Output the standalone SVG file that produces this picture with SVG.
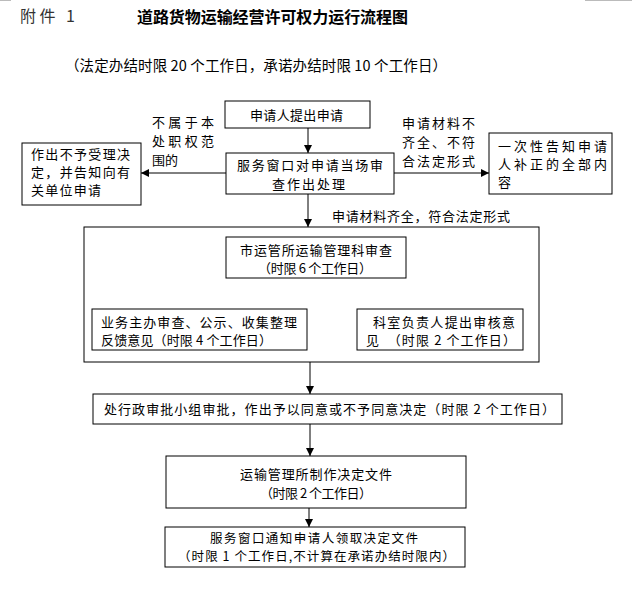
<svg xmlns="http://www.w3.org/2000/svg" width="632" height="601" viewBox="0 0 632 601">
<style>
text{font-family:"Noto Sans CJK SC","Noto Sans",sans-serif;font-size:13px;fill:#000}
.box{fill:#fff;stroke:#000;stroke-width:1}
.c{stroke:#000;stroke-width:1;fill:none;marker-end:url(#ah)}
.lbl{font-size:13px}
</style>
<defs>
<marker id="ah" markerUnits="userSpaceOnUse" markerWidth="8" markerHeight="8" refX="8" refY="4" orient="auto">
<path d="M0,0 L8,4 L0,8 z" fill="#000"/>
</marker>
</defs>
<rect width="632" height="601" fill="#fff"/>
<line x1="0" y1="0.5" x2="11" y2="0.5" stroke="#bbb"/>
<line x1="585" y1="0.5" x2="632" y2="0.5" stroke="#bbb"/>
<g id="title">
<text x="20" y="22" style="font-size:16px;fill:#333" textLength="55">附件 1</text>
<text x="137" y="23" style="font-size:16px;font-weight:bold" textLength="271">道路货物运输经营许可权力运行流程图</text>
<text x="65" y="71" style="font-size:14.5px" textLength="382">（法定办结时限 20 个工作日，承诺办结时限 10 个工作日）</text>
</g>
<g id="connectors">
<line class="c" x1="308" y1="128" x2="308" y2="153"/>
<line class="c" x1="226" y1="173" x2="141" y2="173"/>
<line class="c" x1="394" y1="173" x2="489" y2="173"/>
<line class="c" x1="308" y1="194" x2="308" y2="227"/>
<line class="c" x1="242" y1="278" x2="242" y2="309"/>
<line class="c" x1="399" y1="278" x2="399" y2="309"/>
<line class="c" x1="310" y1="362" x2="310" y2="394"/>
<line class="c" x1="310" y1="424" x2="310" y2="456"/>
<line class="c" x1="309" y1="508" x2="309" y2="527"/>
<text class="lbl" x="152" y="127" textLength="62">不属于本</text>
<text class="lbl" x="152" y="146" textLength="62">处职权范</text>
<text class="lbl" x="152" y="165">围的</text>
<text class="lbl" x="402" y="128" textLength="73">申请材料不</text>
<text class="lbl" x="402" y="147" textLength="73">齐全、不符</text>
<text class="lbl" x="402" y="166" textLength="73">合法定形式</text>
<text class="lbl" x="332" y="221" textLength="178">申请材料齐全，符合法定形式</text>
</g>
<g id="n1">
<rect class="box" x="225" y="101" width="145" height="27"/>
<text x="250" y="120" textLength="93">申请人提出申请</text>
</g>
<g id="n2">
<rect class="box" x="226" y="153" width="168" height="41"/>
<text x="237" y="170" textLength="146">服务窗口对申请当场审</text>
<text x="272" y="189" textLength="73">查作出处理</text>
</g>
<g id="n3">
<rect class="box" x="22" y="143" width="119" height="62"/>
<text x="31" y="159" textLength="99">作出不予受理决</text>
<text x="31" y="177" textLength="99">定，并告知向有</text>
<text x="31" y="195" textLength="70">关单位申请</text>
</g>
<g id="n4">
<rect class="box" x="489" y="133" width="123" height="61"/>
<text x="498" y="151" textLength="109">一次性告知申请</text>
<text x="498" y="169" textLength="109">人补正的全部内</text>
<text x="498" y="187">容</text>
</g>
<g id="n5">
<rect class="box" x="84" y="227" width="455" height="135"/>
</g>
<g id="n6">
<rect class="box" x="226" y="237" width="180" height="41"/>
<text x="240" y="255" textLength="152">市运管所运输管理科审查</text>
<text x="258" y="273" textLength="114">（时限 6 个工作日）</text>
</g>
<g id="n7">
<rect class="box" x="92" y="309" width="215" height="41"/>
<text x="101" y="327" textLength="196">业务主办审查、公示、收集整理</text>
<text x="101" y="345" textLength="171">反馈意见（时限 4 个工作日）</text>
</g>
<g id="n8">
<rect class="box" x="357" y="309" width="166" height="41"/>
<text x="373" y="327" textLength="142">科室负责人提出审核意</text>
<text x="366" y="345" textLength="150">见　（时限 2 个工作日）</text>
</g>
<g id="n9">
<rect class="box" x="93" y="394" width="469" height="30"/>
<text x="104" y="414" textLength="451">处行政审批小组审批，作出予以同意或不予同意决定（时限 2 个工作日）</text>
</g>
<g id="n10">
<rect class="box" x="166" y="456" width="300" height="52"/>
<text x="240" y="479" textLength="152">运输管理所制作决定文件</text>
<text x="260" y="498" textLength="112">（时限 2 个工作日）</text>
</g>
<g id="n11">
<rect class="box" x="165" y="527" width="300" height="40"/>
<text x="210" y="543" style="font-size:12.5px" textLength="208">服务窗口通知申请人领取决定文件</text>
<text x="178" y="561" style="font-size:12.5px" textLength="277">（时限 1 个工作日,不计算在承诺办结时限内）</text>
</g>
</svg>
